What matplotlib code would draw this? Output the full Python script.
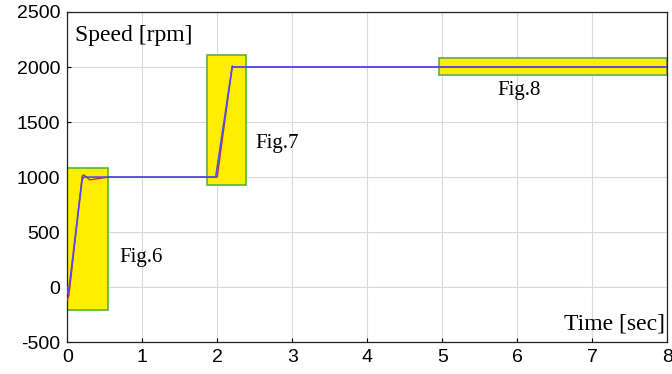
import numpy as np
import matplotlib.pyplot as plt
from matplotlib.patches import Rectangle

# speed response (blue) and reference-ish trace (red)
t_speed = [0.0, 0.01, 0.03, 0.2, 0.22, 0.5, 1.98, 2.2, 2.23, 8.0]
speed = [0, -60, 20, 980, 1000, 1000, 1000, 2000, 2000, 2000]
t_ref = [0.0, 0.02, 0.04, 0.2, 0.22, 0.3, 0.45, 0.55, 2.0, 2.2, 2.22, 8.0]
ref = [-120, -80, 30, 1010, 1020, 975, 990, 1000, 1000, 2010, 2000, 2000]

# highlighted zones: (t0, t1, y0, y1)
boxes = [(-0.01, 0.55, -210, 1080), (1.87, 2.39, 925, 2110), (4.95, 8.0, 1930, 2080)]
labels = ["Fig.6", "Fig.7", "Fig.8"]
label_pos = [(0.69, 272), (2.51, 1305), (5.73, 1786)]

plt.rcParams['font.family'] = ['Liberation Sans', 'DejaVu Sans']
plt.rcParams['axes.unicode_minus'] = False
fig, ax = plt.subplots(figsize=(6.72, 3.74), dpi=100)
fig.subplots_adjust(left=0.1, right=0.993, top=0.968, bottom=0.085)

for (x0, x1, y0, y1) in boxes:
    ax.add_patch(Rectangle((x0, y0), x1 - x0, y1 - y0, facecolor='#ffee00',
                           edgecolor='#5cb040', lw=1.2, zorder=2))

ax.plot(t_ref, ref, color='#c03030', lw=1.0, zorder=3)
ax.plot(t_speed, speed, color='#4a4aff', lw=1.2, zorder=4)

for txt, (lx, ly) in zip(labels, label_pos):
    ax.text(lx, ly, txt, family='Liberation Serif', fontsize=15, va='center', zorder=5)

ax.text(0.11, 2285, 'Speed [rpm]', family='Liberation Serif', fontsize=17, va='center')
ax.text(7.97, -335, 'Time [sec]', family='Liberation Serif', fontsize=17,
        ha='right', va='center')

ax.set_xlim(0, 8)
ax.set_ylim(-500, 2500)
ax.set_xticks(np.arange(0, 9, 1))
ax.set_yticks(np.arange(-500, 2501, 500))
ax.tick_params(direction='in', labelsize=14, length=3, pad=5)
ax.grid(True, color='#d8d8e0', lw=0.8)
for s in ax.spines.values():
    s.set_color('#222222')
    s.set_linewidth(0.9)

plt.savefig('out.png')
